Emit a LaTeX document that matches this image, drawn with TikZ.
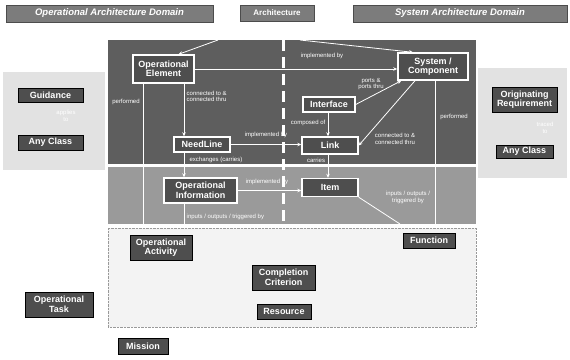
\documentclass[tikz,border=0pt]{standalone}
\usepackage{fontspec}
\setmainfont{Liberation Sans}
\usetikzlibrary{arrows.meta}
\definecolor{darkreg}{HTML}{5E5E5E}
\definecolor{midreg}{HTML}{9A9A9A}
\definecolor{lightreg}{HTML}{E2E2E2}
\definecolor{botreg}{HTML}{F3F3F3}
\definecolor{boxfill}{HTML}{4E4E4E}
\definecolor{titlefill}{HTML}{7C7C7C}
\begin{document}
\begin{tikzpicture}[x=1pt,y=-1pt,
  box/.style={draw=black, line width=0.8pt, fill=boxfill, text=white,
    font=\bfseries\fontsize{9}{9.5}\selectfont, align=center, inner sep=0pt},
  mbox/.style={box, draw=white, line width=1.4pt},
  ttl/.style={draw=black!70, line width=0.6pt, fill=titlefill, text=white,
    font=\bfseries\itshape\fontsize{9.5}{10}\selectfont, inner sep=0pt},
  lbl/.style={text=white, font=\fontsize{6}{6.5}\selectfont, inner sep=0.5pt, align=center},
  faint/.style={text=white, font=\fontsize{6}{6.5}\selectfont, inner sep=0.5pt, align=center},
  conn/.style={white, line width=0.8pt},
  arr/.style={conn, -{Stealth[length=4pt,width=3.5pt]}},
]
\useasboundingbox (0,0) rectangle (570,359);
% regions
\fill[lightreg] (3,72) rectangle (105,170);
\fill[lightreg] (478,68) rectangle (567,178);
\fill[botreg] (108,228) rectangle (476,327);
\draw[black!40, densely dotted] (108,228) rectangle (476,327);
\fill[darkreg] (108,40) rectangle (476,164);
\fill[midreg] (108,167) rectangle (476,224);

% coordinates
\coordinate (cl1) at (283,40);
\coordinate (cl2) at (283,224);
\coordinate (pL) at (143,224);
\coordinate (pR) at (435,224);
\coordinate (xa) at (184,224);
\coordinate (xb) at (328,0);
\coordinate (t1) at (218,40);
\coordinate (t2) at (300,40);
\coordinate (iq) at (400,224);

% central dashed divider
\draw[white, line width=3pt, dash pattern=on 11pt off 6pt] (cl1) -- (cl2);

% titles
\node[ttl, minimum width=207pt, minimum height=17pt] (ttlop) at (109.5,13.5) {Operational Architecture Domain};
\node[ttl, minimum width=74pt, minimum height=16pt, font=\bfseries\fontsize{8}{9}\selectfont] (arch) at (277,13) {Architecture};
\node[ttl, minimum width=214pt, minimum height=17pt] (ttlsys) at (460,13.5) {System Architecture Domain};

% main nodes
\node[mbox, minimum width=61pt, minimum height=28pt] (opel) at (163.5,69) {Operational\\Element};
\node[mbox, minimum width=70pt, minimum height=27pt] (sys) at (433,66.5) {System /\\Component};
\node[mbox, minimum width=52pt, minimum height=15pt] (intf) at (329,104.5) {Interface};
\node[mbox, minimum width=56pt, minimum height=15pt] (need) at (202,144.5) {NeedLine};
\node[mbox, minimum width=56pt, minimum height=17pt] (link) at (330,145.5) {Link};
\node[mbox, minimum width=73pt, minimum height=25pt] (opinfo) at (200.5,190.5) {Operational\\Information};
\node[mbox, minimum width=56pt, minimum height=18pt] (item) at (330,187.5) {Item};

% lower nodes
\node[box, minimum width=62pt, minimum height=25pt] (opact) at (161,247.5) {Operational\\Activity};
\node[box, minimum width=52pt, minimum height=15pt] (func) at (429,240.5) {Function};
\node[box, minimum width=63pt, minimum height=25pt] (compl) at (283.5,277.5) {Completion\\Criterion};
\node[box, minimum width=54pt, minimum height=15pt] (res) at (284,311.5) {Resource};
\node[box, minimum width=68pt, minimum height=25pt] (optask) at (59,304.5) {Operational\\Task};
\node[box, minimum width=50pt, minimum height=16pt] (mission) at (143,346) {Mission};

% side panels
\node[box, minimum width=65pt, minimum height=14pt] (guid) at (50.5,95) {Guidance};
\node[box, minimum width=65pt, minimum height=15pt] (anyl) at (50.5,142.5) {Any Class};
\node[faint] (guidlbl) at (66,116) {applies\\to};
\node[box, minimum width=65pt, minimum height=25pt] (origreq) at (524.5,99.5) {Originating\\Requirement};
\node[box, minimum width=57pt, minimum height=13pt] (anyr) at (524.5,151.5) {Any Class};
\node[faint] (origlbl) at (545,128) {traced\\to};

% connectors
\draw[arr] (t1) -- ([xshift=15pt]opel.north);
\draw[arr] (t2) -- ([xshift=-20pt]sys.north);
\draw[arr] (opel.east) -- (opel.east -| sys.west);
\draw[arr] (opel.south -| xa) -- (need.north -| xa);
\draw[conn] (opel.south -| pL) -- (pL);
\draw[conn] (sys.south -| pR) -- (pR);
\draw[arr] (need.east) -- (need.east -| link.west);
\draw[arr] (need.south -| xa) -- (opinfo.north -| xa);
\draw[conn] (opinfo.south -| xa) -- (xa);
\draw[arr] (intf.south -| xb) -- (link.north -| xb);
\draw[arr] (link.south -| xb) -- (item.north -| xb);
\draw[arr] (opinfo.east) -- (opinfo.east -| item.west);
\draw[arr] (intf.east) -- ([xshift=4pt]sys.south west);
\draw[arr] ([xshift=-18pt]sys.south) -- (link.east);
\draw[conn] (item.south east) -- (iq);

% connector labels
\node[lbl] (l1) at (322,56) {implemented by};
\node[lbl, anchor=west, align=left] (l2) at (186,96.5) {connected to \&\\connected thru};
\node[lbl] (l3) at (126,102) {performed};
\node[lbl] (l4) at (266,135) {implemented by};
\node[lbl] (l5) at (216,159.5) {exchanges (carries)};
\node[lbl, anchor=east] (l6) at (326,123) {composed of};
\node[lbl] (l7) at (371,84) {ports \&\\ports thru};
\node[lbl] (l8) at (395,139) {connected to \&\\connected thru};
\node[lbl] (l9) at (454,117) {performed};
\node[lbl] (l10) at (316,160) {carries};
\node[lbl] (l11) at (267,182) {implemented by};
\node[lbl, anchor=west] (l12) at (186,216.5) {inputs / outputs / triggered by};
\node[lbl] (l13) at (408,197.5) {inputs / outputs /\\triggered by};
\end{tikzpicture}
\end{document}
